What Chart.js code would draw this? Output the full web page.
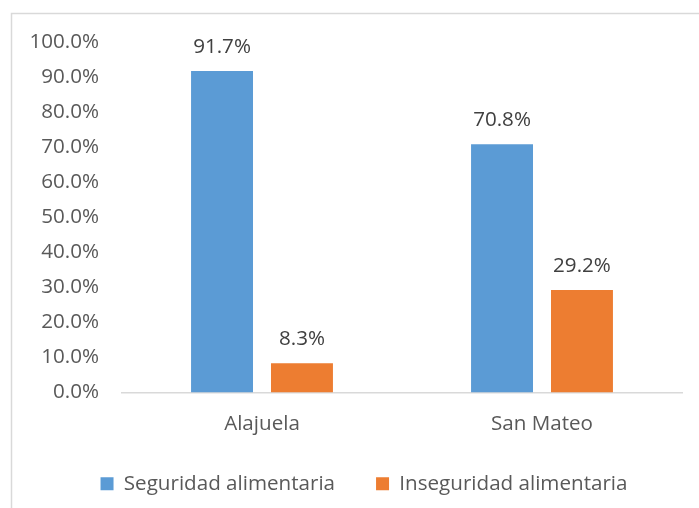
<!DOCTYPE html>
<html>
<head>
<meta charset="utf-8">
<script src="https://cdn.jsdelivr.net/npm/chart.js@4/dist/chart.umd.min.js"></script>
<style>
  html, body { margin: 0; padding: 0; background: #fff; }
  #wrap { width: 699px; height: 508px; position: relative; }
</style>
</head>
<body>
<div id="wrap"><canvas id="chart" width="699" height="508"></canvas></div>
<script>
// === Data ===
const categories = ["Alajuela", "San Mateo"];
const seguridad = [91.7, 70.8];
const inseguridad = [8.3, 29.2];
const seriesNames = ["Seguridad alimentaria", "Inseguridad alimentaria"];

const FONT = "'Open Sans', 'Liberation Sans', sans-serif";
const FSIZE = 20.6;
const TEXT = "#595959";

// frame lines (left + top) like the Excel chart border
const framePlugin = {
  id: "frame",
  beforeDraw(chart) {
    const c = chart.ctx;
    c.save();
    c.strokeStyle = "#d9d9d9";
    c.lineWidth = 1.5;
    c.beginPath();
    c.moveTo(11.5, 508);
    c.lineTo(11.5, 13.5);
    c.lineTo(699, 13.5);
    c.stroke();
    c.restore();
  },
  // legend sits a bit right of canvas centre (and a bit higher) in the original
  afterLayout(chart) {
    const lg = chart.legend;
    if (lg) {
      lg.left += 23;
      lg.right += 23;
      lg.top -= 4;
      lg.bottom -= 4;
    }
  },
};

// value labels above bars
const labelPlugin = {
  id: "valueLabels",
  afterDatasetsDraw(chart) {
    const c = chart.ctx;
    c.save();
    c.fillStyle = "#404040";
    c.font = FSIZE + "px " + FONT;
    c.textAlign = "center";
    c.textBaseline = "bottom";
    chart.data.datasets.forEach((ds, i) => {
      chart.getDatasetMeta(i).data.forEach((bar, j) => {
        c.fillText(ds.data[j].toFixed(1) + "%", bar.x, bar.y - 14);
      });
    });
    c.restore();
  },
};

new Chart(document.getElementById("chart"), {
  type: "bar",
  data: {
    labels: categories,
    datasets: [
      { label: seriesNames[0], data: seguridad, backgroundColor: "#5B9BD5" },
      { label: seriesNames[1], data: inseguridad, backgroundColor: "#ED7D31" },
    ],
  },
  options: {
    responsive: false,
    animation: false,
    categoryPercentage: 0.571,
    barPercentage: 0.775,
    layout: { padding: { top: 42, right: 17, bottom: 0, left: 0 } },
    plugins: {
      legend: {
        position: "bottom",
        labels: {
          color: TEXT,
          font: { family: FONT, size: FSIZE },
          boxWidth: 13,
          boxHeight: 13,
          padding: 41,
        },
      },
      tooltip: { enabled: false },
    },
    scales: {
      x: {
        grid: { display: false },
        border: { color: "#d9d9d9", width: 1.5 },
        ticks: { color: TEXT, font: { family: FONT, size: FSIZE }, padding: 11 },
        afterFit(s) { s.height = 44; },
      },
      y: {
        min: 0,
        max: 100,
        grid: { display: false },
        border: { display: false },
        ticks: {
          stepSize: 10,
          color: TEXT,
          font: { family: FONT, size: FSIZE },
          padding: 15,
          callback: (v) => v.toFixed(1) + "%",
        },
        afterFit(s) { s.width = 122; },
      },
    },
  },
  plugins: [framePlugin, labelPlugin],
});
</script>
</body>
</html>
